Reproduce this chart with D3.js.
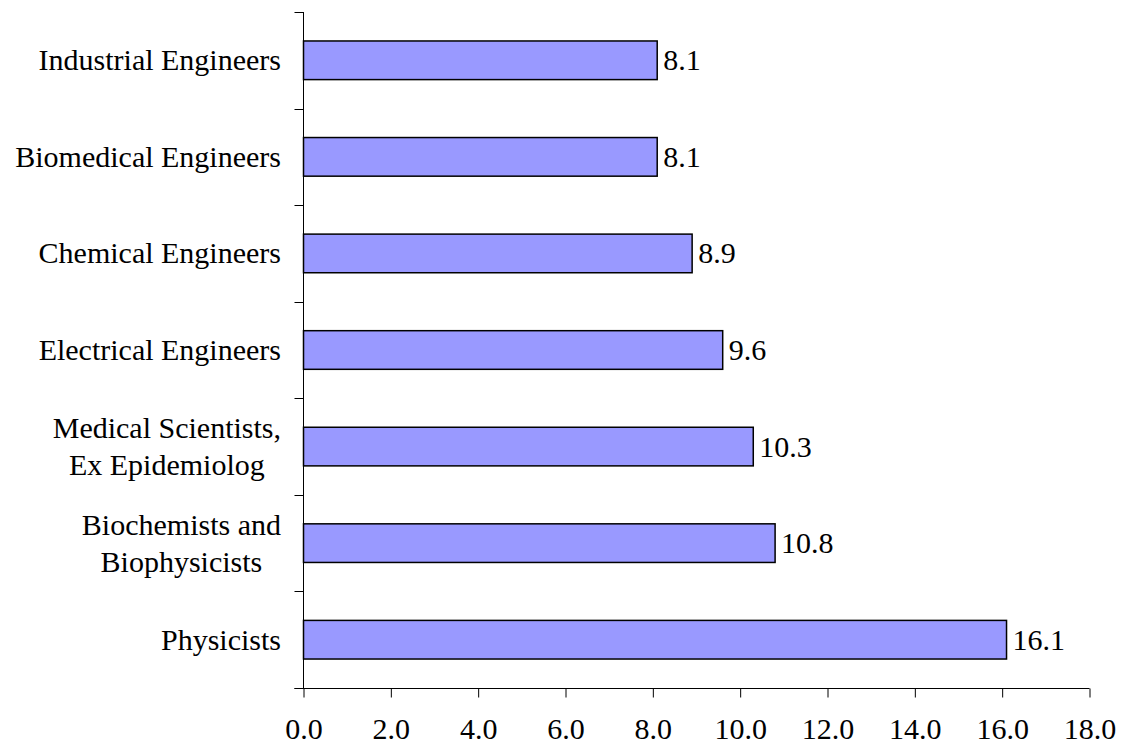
<!DOCTYPE html>
<html>
<head>
<meta charset="utf-8">
<script src="https://cdn.jsdelivr.net/npm/d3@7"></script>
<style>
  html, body { margin: 0; padding: 0; background: #fff; }
  svg { display: block; }
  text { font-family: "Liberation Serif", "Times New Roman", serif; font-size: 30px; fill: #000; }
</style>
</head>
<body>
<svg id="chart" width="1122" height="746"></svg>
<script>
const categories = [
  "Industrial Engineers",
  "Biomedical Engineers",
  "Chemical Engineers",
  "Electrical Engineers",
  "Medical Scientists,\nEx Epidemiolog",
  "Biochemists and\nBiophysicists",
  "Physicists"
];
const values = [8.1, 8.1, 8.9, 9.6, 10.3, 10.8, 16.1];
const xTicks = [0, 2, 4, 6, 8, 10, 12, 14, 16, 18];

(function () {
const svg = d3.select("#chart");
const pLeft = 303.5, pRight = 1089.5, pTop = 12, pBottom = 688;

const x = d3.scaleLinear().domain([0, 18]).range([pLeft, pRight]);
const y = d3.scaleBand().domain(categories).range([pTop, pBottom]).paddingInner(0.6).paddingOuter(0.3);
const step = y.step();

// bars
svg.append("g").selectAll("rect")
  .data(values)
  .join("rect")
  .attr("x", x(0))
  .attr("y", (d, i) => y(categories[i]))
  .attr("width", d => x(d) - x(0))
  .attr("height", y.bandwidth())
  .attr("fill", "#9999FF")
  .attr("stroke", "#000")
  .attr("stroke-width", 1.5);

// value labels
svg.append("g").selectAll("text")
  .data(values)
  .join("text")
  .attr("x", d => x(d) + 6)
  .attr("y", (d, i) => y(categories[i]) + y.bandwidth() / 2 + 10)
  .text(d => d.toFixed(1));

// y axis line and ticks at band boundaries
svg.append("line")
  .attr("x1", pLeft).attr("x2", pLeft).attr("y1", pTop).attr("y2", pBottom)
  .attr("stroke", "#000").attr("stroke-width", 1);
const bounds = d3.range(categories.length + 1).map(i => pTop + i * step);
svg.append("g").selectAll("line")
  .data(bounds)
  .join("line")
  .attr("x1", pLeft - 9).attr("x2", pLeft)
  .attr("y1", d => Math.round(d) + 0.5).attr("y2", d => Math.round(d) + 0.5)
  .attr("stroke", "#000").attr("stroke-width", 1);

// x axis
const xAxis = d3.axisBottom(x).tickValues(xTicks).tickSize(9).tickPadding(0).tickFormat(d3.format(".1f"));
const gx = svg.append("g").attr("transform", `translate(0,${pBottom + 0.5})`).call(xAxis);
gx.select(".domain").attr("d", `M${pLeft - 9},0H${pRight}`).attr("stroke", "#000");
gx.selectAll(".tick line").attr("stroke", "#000");
gx.selectAll(".tick text")
  .attr("y", 50.5).attr("dy", null)
  .style("font-family", '"Liberation Serif", "Times New Roman", serif')
  .style("font-size", "30px").attr("fill", "#000");

// category labels
const labelRight = 281;
const lineH = 37;
categories.forEach((c, i) => {
  const lines = c.split("\n");
  const cy = y(c) + y.bandwidth() / 2;
  const t = svg.append("text").attr("text-anchor", "middle");
  const n = lines.length;
  const spans = lines.map((l, j) => t.append("tspan").attr("y", cy + 10 + (j - (n - 1) / 2) * lineH).text(l));
  const maxW = d3.max(spans.map(s => s.node().getComputedTextLength()));
  spans.forEach(s => s.attr("x", labelRight - maxW / 2));
});
})();
</script>
</body>
</html>
